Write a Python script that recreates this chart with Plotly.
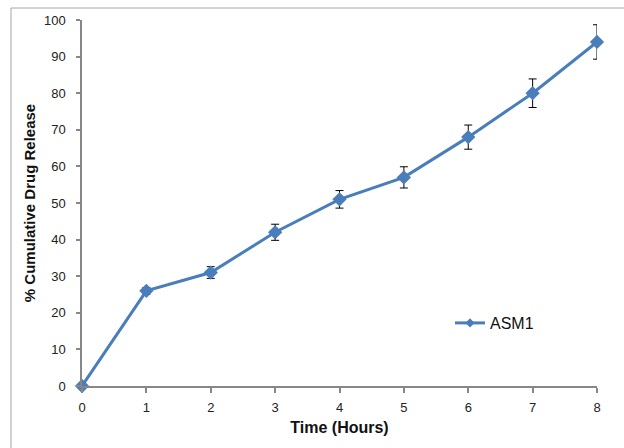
import plotly.graph_objects as go

time_hours = [0, 1, 2, 3, 4, 5, 6, 7, 8]
release_asm1 = [0, 26, 31, 42, 51, 57, 68, 80, 94]
error_asm1 = [0, 0.9, 1.6, 2.2, 2.4, 2.9, 3.3, 3.9, 4.7]
x_ticks = [0, 1, 2, 3, 4, 5, 6, 7, 8]
y_ticks = [0, 10, 20, 30, 40, 50, 60, 70, 80, 90, 100]

blue = "#4A7EBB"
axis_grey = "#878787"

fig = go.Figure()
fig.add_trace(go.Scatter(
    x=time_hours, y=release_asm1, name="ASM1", mode="lines+markers",
    line=dict(color=blue, width=3),
    marker=dict(symbol="diamond", size=11, color=blue),
    error_y=dict(type="data", array=error_asm1, visible=True,
                 color="black", thickness=1, width=4),
    cliponaxis=False, showlegend=False,
))
# legend entry with a smaller marker, like the original
fig.add_trace(go.Scatter(
    x=[None], y=[None], name="ASM1", mode="lines+markers",
    line=dict(color=blue, width=3),
    marker=dict(symbol="diamond", size=7, color=blue),
    showlegend=True,
))

W, H = 624, 448
L, R, T, B = 82, 27, 20, 62
pw, ph = W - L - R, H - T - B

def px(x):
    return (x - L) / pw

def py(y):
    return (H - B - y) / ph

fig.add_shape(type="rect", xref="paper", yref="paper",
              x0=px(11), x1=px(640), y0=py(460), y1=py(8),
              line=dict(color="#A6A6A6", width=1), layer="below")

fig.update_layout(
    width=W, height=H,
    margin=dict(l=L, r=R, t=T, b=B, autoexpand=False),
    paper_bgcolor="white", plot_bgcolor="white",
    font=dict(family="Liberation Sans, Arial, sans-serif", size=13, color="#222222"),
    showlegend=True,
    legend=dict(x=px(450), y=py(323), xanchor="left", yanchor="middle",
                bgcolor="rgba(0,0,0,0)", font=dict(size=16, color="#111111")),
    xaxis=dict(range=[0, 8], tickvals=x_ticks, showgrid=False, zeroline=False,
               showline=True, linecolor=axis_grey, linewidth=2,
               ticks="outside", ticklen=5, tickcolor=axis_grey, tickwidth=1.5,
               ticklabelstandoff=3, automargin=False,
               tickfont=dict(size=13),
               title=dict(text="<b>Time (Hours)</b>", font=dict(size=16, color="#111111"), standoff=8)),
    yaxis=dict(range=[0, 100], tickvals=y_ticks, showgrid=False, zeroline=False,
               showline=True, linecolor=axis_grey, linewidth=1.5,
               ticks="outside", ticklen=4, tickcolor=axis_grey, tickwidth=1.5,
               ticklabelstandoff=8, automargin=False,
               tickfont=dict(size=13),
               title=dict(text="<b>% Cumulative Drug Release</b>", font=dict(size=15, color="#111111"), standoff=5)),
)

fig.write_html("out.html")
